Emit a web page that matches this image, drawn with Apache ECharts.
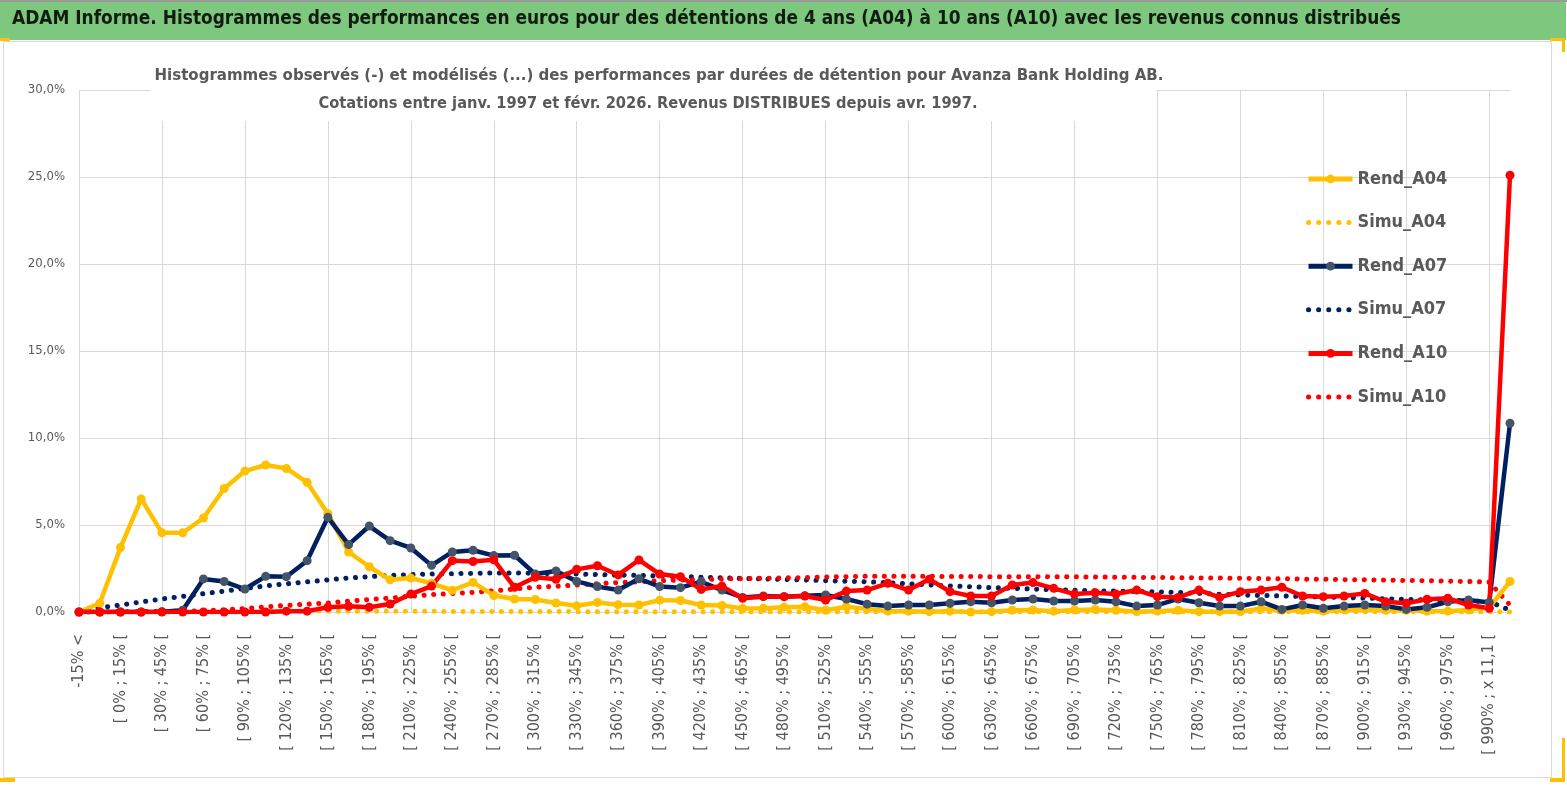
<!DOCTYPE html>
<html>
<head>
<meta charset="utf-8">
<script src="https://cdn.jsdelivr.net/npm/echarts@6/dist/echarts.min.js"></script>
<style>
  html, body { margin: 0; padding: 0; background: #fff; }
  #chart { width: 1567px; height: 791px; }
</style>
</head>
<body>
<div id="chart"></div>
<script>
var categories = [
  '-15% <', '[ -15% ; 0% [', '[ 0% ; 15% [', '[ 15% ; 30% [', '[ 30% ; 45% [', '[ 45% ; 60% [',
  '[ 60% ; 75% [', '[ 75% ; 90% [', '[ 90% ; 105% [', '[ 105% ; 120% [', '[ 120% ; 135% [', '[ 135% ; 150% [',
  '[ 150% ; 165% [', '[ 165% ; 180% [', '[ 180% ; 195% [', '[ 195% ; 210% [', '[ 210% ; 225% [', '[ 225% ; 240% [',
  '[ 240% ; 255% [', '[ 255% ; 270% [', '[ 270% ; 285% [', '[ 285% ; 300% [', '[ 300% ; 315% [', '[ 315% ; 330% [',
  '[ 330% ; 345% [', '[ 345% ; 360% [', '[ 360% ; 375% [', '[ 375% ; 390% [', '[ 390% ; 405% [', '[ 405% ; 420% [',
  '[ 420% ; 435% [', '[ 435% ; 450% [', '[ 450% ; 465% [', '[ 465% ; 480% [', '[ 480% ; 495% [', '[ 495% ; 510% [',
  '[ 510% ; 525% [', '[ 525% ; 540% [', '[ 540% ; 555% [', '[ 555% ; 570% [', '[ 570% ; 585% [', '[ 585% ; 600% [',
  '[ 600% ; 615% [', '[ 615% ; 630% [', '[ 630% ; 645% [', '[ 645% ; 660% [', '[ 660% ; 675% [', '[ 675% ; 690% [',
  '[ 690% ; 705% [', '[ 705% ; 720% [', '[ 720% ; 735% [', '[ 735% ; 750% [', '[ 750% ; 765% [', '[ 765% ; 780% [',
  '[ 780% ; 795% [', '[ 795% ; 810% [', '[ 810% ; 825% [', '[ 825% ; 840% [', '[ 840% ; 855% [', '[ 855% ; 870% [',
  '[ 870% ; 885% [', '[ 885% ; 900% [', '[ 900% ; 915% [', '[ 915% ; 930% [', '[ 930% ; 945% [', '[ 945% ; 960% [',
  '[ 960% ; 975% [', '[ 975% ; 990% [', '[ 990% ; x 11,1 [', 'x 11,1 <'
];

// values in %
var rendA04 = [
  0.0, 0.5, 3.7, 6.5, 4.55, 4.55, 5.4, 7.1, 8.1, 8.45,
  8.25, 7.45, 5.65, 3.45, 2.6, 1.85, 1.95, 1.65, 1.25, 1.7,
  0.95, 0.75, 0.72, 0.52, 0.36, 0.55, 0.42, 0.4, 0.68, 0.66,
  0.4, 0.38, 0.2, 0.22, 0.28, 0.3, 0.1, 0.3, 0.18, 0.05,
  0.05, 0.02, 0.05, 0.0, 0.02, 0.1, 0.12, 0.05, 0.12, 0.15,
  0.1, 0.02, 0.05, 0.1, 0.02, 0.02, 0.02, 0.2, 0.1, 0.1,
  0.05, 0.12, 0.15, 0.1, 0.1, 0.05, 0.05, 0.12, 0.27, 1.75
];
var simuA04 = [
  0.0, 0.0, 0.01, 0.02, 0.03, 0.04, 0.05, 0.05, 0.06, 0.06,
  0.06, 0.06, 0.05, 0.05, 0.05, 0.04, 0.04, 0.04, 0.03, 0.03,
  0.03, 0.03, 0.03, 0.03, 0.02, 0.02, 0.02, 0.02, 0.02, 0.02,
  0.02, 0.02, 0.02, 0.02, 0.02, 0.02, 0.02, 0.02, 0.02, 0.02,
  0.02, 0.02, 0.02, 0.02, 0.02, 0.02, 0.02, 0.02, 0.02, 0.02,
  0.02, 0.02, 0.02, 0.02, 0.02, 0.02, 0.02, 0.02, 0.02, 0.02,
  0.02, 0.02, 0.02, 0.02, 0.02, 0.02, 0.02, 0.02, 0.02, 0.0
];
var rendA07 = [
  0.0, 0.0, 0.0, 0.0, 0.02, 0.1, 1.9, 1.75, 1.32, 2.05,
  2.03, 2.95, 5.44, 3.87, 4.94, 4.1, 3.68, 2.68, 3.45, 3.55,
  3.24, 3.26, 2.18, 2.36, 1.76, 1.46, 1.26, 1.91, 1.46, 1.4,
  1.74, 1.26, 0.84, 0.92, 0.88, 0.93, 0.98, 0.75, 0.45, 0.34,
  0.4, 0.4, 0.5, 0.59, 0.53, 0.69, 0.75, 0.63, 0.63, 0.69,
  0.59, 0.34, 0.4, 0.75, 0.53, 0.34, 0.34, 0.59, 0.15, 0.4,
  0.21, 0.34, 0.4, 0.34, 0.15, 0.27, 0.59, 0.69, 0.55, 10.85
];
var simuA07 = [
  0.1, 0.25, 0.4, 0.58, 0.75, 0.9, 1.05, 1.2, 1.35, 1.5,
  1.62, 1.73, 1.85, 1.95, 2.03, 2.1, 2.15, 2.18, 2.2, 2.22,
  2.24, 2.24, 2.23, 2.2, 2.18, 2.15, 2.12, 2.1, 2.07, 2.04,
  2.0, 1.97, 1.93, 1.9, 1.87, 1.84, 1.8, 1.77, 1.74, 1.68,
  1.62, 1.56, 1.5, 1.45, 1.4, 1.36, 1.32, 1.28, 1.25, 1.22,
  1.2, 1.18, 1.16, 1.12, 1.08, 1.02, 0.98, 0.95, 0.92, 0.89,
  0.86, 0.83, 0.8, 0.76, 0.73, 0.7, 0.68, 0.64, 0.6, 0.1
];
var rendA10 = [
  0.0, 0.0, 0.0, 0.0, 0.0, 0.0, 0.0, 0.0, 0.0, 0.0,
  0.05, 0.05, 0.27, 0.33, 0.27, 0.46, 1.03, 1.49, 2.95, 2.9,
  3.0, 1.42, 2.0, 1.88, 2.45, 2.66, 2.13, 2.99, 2.18, 2.03,
  1.3, 1.49, 0.79, 0.88, 0.88, 0.92, 0.69, 1.2, 1.26, 1.65,
  1.26, 1.88, 1.17, 0.92, 0.92, 1.55, 1.69, 1.36, 1.03, 1.11,
  1.03, 1.26, 0.88, 0.84, 1.26, 0.84, 1.17, 1.26, 1.42, 0.92,
  0.88, 0.92, 1.07, 0.59, 0.5, 0.73, 0.79, 0.4, 0.21, 25.1
];
var simuA10 = [
  0.0, 0.0, 0.01, 0.02, 0.03, 0.04, 0.07, 0.12, 0.2, 0.3,
  0.38, 0.45, 0.52, 0.62, 0.72, 0.8, 0.9, 1.0, 1.06, 1.13,
  1.22, 1.32, 1.42, 1.48, 1.55, 1.63, 1.69, 1.74, 1.8, 1.84,
  1.87, 1.9, 1.92, 1.94, 1.96, 1.98, 2.01, 2.03, 2.05, 2.05,
  2.05, 2.05, 2.04, 2.04, 2.03, 2.03, 2.03, 2.02, 2.02, 2.01,
  2.0, 1.99, 1.98, 1.97, 1.96, 1.95, 1.94, 1.92, 1.91, 1.89,
  1.88, 1.86, 1.85, 1.83, 1.81, 1.8, 1.77, 1.75, 1.72, 0.4
];
var yTicks = { min: 0, max: 30, interval: 5 };

var yellow = '#FFC000', navy = '#002060', navyMark = '#44546A', red = '#FF0000';
var txt = '#595959', rule = '#d9d9d9';
var font = '"Liberation Sans Narrow", "DejaVu Sans Condensed", "Noto Sans", sans-serif';
var dots = [0.1, 9.5];

function rend(name, data, color, markColor) {
  return {
    name: name, type: 'line', data: data,
    symbol: 'circle', symbolSize: 9, showSymbol: true,
    lineStyle: { color: color, width: 4.5, cap: 'round', join: 'round' },
    itemStyle: { color: markColor },
    z: 3
  };
}
function simu(name, data, color) {
  return {
    name: name, type: 'line', data: data,
    symbol: 'none',
    lineStyle: { color: color, width: 5, type: dots, cap: 'round' },
    itemStyle: { color: color },
    z: 2
  };
}
function legendRend(name) {
  return { name: name, lineStyle: { width: 5, cap: 'butt' } };
}
function legendSimu(name) {
  return { name: name, itemStyle: { opacity: 0 }, lineStyle: { width: 5, type: [0.1, 10], cap: 'round' } };
}

var chart = echarts.init(document.getElementById('chart'));
chart.setOption({
  animation: false,
  backgroundColor: '#fff',
  grid: { left: 79, right: 57, top: 90, bottom: 179, containLabel: false },
  legend: {
    orient: 'vertical', left: 1301, top: 165,
    itemWidth: 44, itemHeight: 11, itemGap: 25.6,
    textStyle: { color: txt, fontSize: 18, fontWeight: 'bold', fontFamily: font },
    data: [
      legendRend('Rend_A04'), legendSimu('Simu_A04'),
      legendRend('Rend_A07'), legendSimu('Simu_A07'),
      legendRend('Rend_A10'), legendSimu('Simu_A10')
    ]
  },
  xAxis: {
    type: 'category', data: categories, boundaryGap: false,
    axisLine: { lineStyle: { color: rule, width: 1 } },
    axisTick: { show: false },
    axisLabel: { interval: 1, rotate: 90, margin: 22, color: txt, fontSize: 16, fontFamily: font },
    splitLine: { show: true, interval: 3, lineStyle: { color: rule, width: 1 } }
  },
  yAxis: {
    type: 'value', min: yTicks.min, max: yTicks.max, interval: yTicks.interval,
    axisLine: { show: false }, axisTick: { show: false },
    axisLabel: {
      margin: 14, color: txt, fontSize: 13, fontFamily: font,
      formatter: function (v) { return v.toFixed(1).replace('.', ',') + '%'; }
    },
    splitLine: { lineStyle: { color: rule, width: 1 } }
  },
  series: [
    rend('Rend_A04', rendA04, yellow, yellow),
    simu('Simu_A04', simuA04, yellow),
    rend('Rend_A07', rendA07, navy, navyMark),
    simu('Simu_A07', simuA07, navy),
    rend('Rend_A10', rendA10, red, red),
    simu('Simu_A10', simuA10, red)
  ],
  graphic: [
    { type: 'rect', z: -10, shape: { x: 0, y: 0, width: 1567, height: 2 }, style: { fill: '#9a9a9a' } },
    { type: 'rect', z: -10, shape: { x: 0, y: 2, width: 1566, height: 38 }, style: { fill: '#7DC87E' } },
    { type: 'rect', z: -10, shape: { x: 3.5, y: 41.5, width: 1548, height: 736 }, style: { fill: 'none', stroke: rule, lineWidth: 1 } },
    {
      type: 'text', z: 20, left: 12, top: 10,
      style: {
        text: 'ADAM Informe. Histogrammes des performances en euros pour des détentions de 4 ans (A04) à 10 ans (A10) avec les revenus connus distribués',
        fill: '#101c10', font: 'bold 18.9px ' + font
      }
    },
    { type: 'rect', z: 15, shape: { x: 150, y: 58, width: 1007, height: 63 }, style: { fill: '#fff' } },
    {
      type: 'text', z: 20, x: 659, y: 67,
      style: {
        text: 'Histogrammes observés (-) et modélisés (...) des performances par durées de détention pour Avanza Bank Holding AB.',
        fill: txt, font: 'bold 16.7px ' + font, align: 'center'
      }
    },
    {
      type: 'text', z: 20, x: 648, y: 96,
      style: {
        text: 'Cotations entre janv. 1997 et févr. 2026. Revenus DISTRIBUES depuis avr. 1997.',
        fill: txt, font: 'bold 16.3px ' + font, align: 'center'
      }
    },
    // selection handles
    { type: 'rect', z: 20, shape: { x: 0, y: 38, width: 10, height: 3 }, style: { fill: yellow } },
    { type: 'rect', z: 20, shape: { x: 1550, y: 38, width: 15, height: 3 }, style: { fill: yellow } },
    { type: 'rect', z: 20, shape: { x: 1562, y: 38, width: 3, height: 14 }, style: { fill: yellow } },
    { type: 'rect', z: 20, shape: { x: 0, y: 778, width: 15, height: 4 }, style: { fill: yellow } },
    { type: 'rect', z: 20, shape: { x: 1550, y: 778, width: 15, height: 4 }, style: { fill: yellow } },
    { type: 'rect', z: 20, shape: { x: 1562, y: 738, width: 3, height: 44 }, style: { fill: yellow } }
  ]
});
</script>
</body>
</html>
